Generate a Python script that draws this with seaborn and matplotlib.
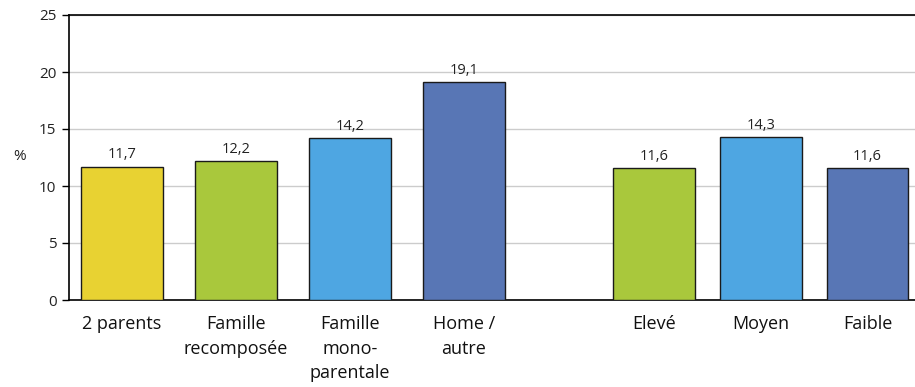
import pandas as pd
import numpy as np
import matplotlib
matplotlib.use('Agg')
import matplotlib.pyplot as plt
import seaborn as sns

# ============================================================
# DATA
# ============================================================
labels = ['2 parents', 'Famille\nrecomposée', 'Famille\nmono-\nparentale', 'Home /\nautre',
          'Elevé', 'Moyen', 'Faible']
values = [11.7, 12.2, 14.2, 19.1, 11.6, 14.3, 11.6]
colors = ['#E8D232', '#A9C83C', '#4EA6E2', '#5876B5', '#A9C83C', '#4EA6E2', '#5876B5']
y_ticks = [0, 5, 10, 15, 20, 25]

# layout: two groups of bars, the second one slightly tighter
pos = [0, 1, 2, 3, 4.667, 5.605, 6.539]

df = pd.DataFrame({'pos': pos, 'label': labels, 'value': values})

# ============================================================
# PLOT
# ============================================================
sns.set_style('white')
plt.rcParams['font.family'] = ['Open Sans', 'DejaVu Sans']

fig = plt.figure(figsize=(9.15, 3.87), dpi=100)
ax = fig.add_axes([69/915, 1 - 300/387, 1 - 69/915, 285/387])

sns.barplot(data=df, x='pos', y='value', hue='label', palette=colors,
            native_scale=True, width=0.719/0.938, legend=False,
            edgecolor='#1a1a1a', linewidth=1.0, saturation=1, ax=ax, zorder=3)

for c in ax.containers:
    ax.bar_label(c, labels=[f'{v:.1f}'.replace('.', ',') for v in c.datavalues],
                 padding=3, fontsize=10.5, color='#222222')

ax.set_xlim(-0.465, 6.956)
ax.set_ylim(0, 25)
ax.set_yticks(y_ticks)
ax.set_yticklabels([str(t) for t in y_ticks], fontsize=11, color='#222222')
ax.set_xticks(pos)
ax.set_xticklabels(labels, fontsize=13, color='#111111', linespacing=1.45, va='top')
ax.tick_params(axis='x', length=0, pad=11)
ax.tick_params(axis='y', left=True, length=5, width=1, color='black', pad=4)
ax.set_xlabel('')
ax.set_ylabel('')

ax.grid(axis='y', color='#cccccc', linewidth=1, zorder=0)
ax.set_axisbelow(True)
for s in ['left', 'bottom', 'top']:
    ax.spines[s].set_color('black')
    ax.spines[s].set_linewidth(1.2)
ax.spines['right'].set_visible(False)

fig.text(20/915, 1 - 157/387, '%', fontsize=11, color='#222222', ha='center', va='center')

fig.savefig('out.png', dpi=100)
